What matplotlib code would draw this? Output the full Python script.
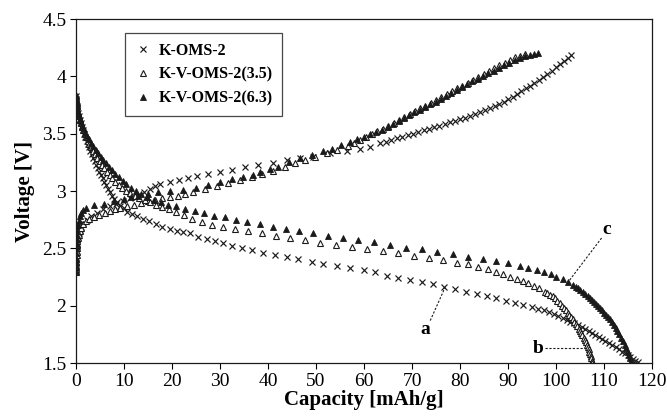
import numpy as np
import matplotlib
matplotlib.use("Agg")
import matplotlib.pyplot as plt

plt.rcParams['font.family'] = ['Liberation Serif', 'DejaVu Serif']

# (capacity mAh/g, voltage V)
kom_dis = [(0.0, 3.83), (0.05, 3.80), (0.1, 3.77), (0.2, 3.74), (0.3, 3.71), (0.45, 3.68), (0.6, 3.65),
           (0.8, 3.62), (1.0, 3.59), (1.2, 3.56), (1.45, 3.53), (1.7, 3.50), (1.95, 3.47), (2.2, 3.44),
           (2.45, 3.41), (2.7, 3.38), (3.0, 3.35), (3.3, 3.32), (3.6, 3.29), (3.9, 3.26), (4.2, 3.23),
           (4.5, 3.20), (4.85, 3.17), (5.2, 3.14), (5.55, 3.11), (5.9, 3.08), (6.3, 3.05), (6.7, 3.02),
           (7.1, 2.99), (7.5, 2.96), (8.0, 2.93), (8.5, 2.90), (9.1, 2.87), (9.9, 2.85), (10.7, 2.82),
           (11.6, 2.80), (12.7, 2.78), (14.0, 2.76), (15.3, 2.735), (16.6, 2.71), (18.0, 2.69), (19.5, 2.67),
           (21.0, 2.65), (22.3, 2.64), (23.75, 2.63), (25.5, 2.60), (27.2, 2.58), (29.0, 2.565), (30.7, 2.545),
           (32.6, 2.52), (34.5, 2.505), (36.6, 2.485), (39.0, 2.46), (41.5, 2.44), (43.9, 2.425), (46.3, 2.405),
           (49.1, 2.385), (51.5, 2.365), (54.3, 2.345), (57.1, 2.33), (59.9, 2.31), (62.3, 2.29), (64.7, 2.26),
           (67.1, 2.245), (69.6, 2.225), (72.0, 2.205), (74.4, 2.185), (76.7, 2.165), (79.0, 2.145),
           (81.25, 2.12), (83.5, 2.10), (85.6, 2.085), (87.6, 2.065), (89.6, 2.045), (91.5, 2.025),
           (93.2, 2.01), (95.0, 1.99), (96.3, 1.975), (97.5, 1.96), (98.6, 1.945), (99.6, 1.93), (100.5, 1.91),
           (101.4, 1.89), (102.2, 1.875), (103.0, 1.86), (103.8, 1.845), (104.6, 1.83), (105.4, 1.81),
           (106.1, 1.795), (106.8, 1.78), (107.5, 1.76), (108.2, 1.745), (108.9, 1.725), (109.6, 1.71),
           (110.3, 1.69), (111.0, 1.675), (111.7, 1.655), (112.4, 1.64), (113.1, 1.62), (113.7, 1.60),
           (114.3, 1.585), (114.9, 1.57), (115.5, 1.55), (116.0, 1.535), (116.5, 1.52), (117.0, 1.505)]

kom_chg = [(0.0, 2.30), (0.02, 2.33), (0.04, 2.36), (0.06, 2.39), (0.08, 2.42), (0.1, 2.45), (0.13, 2.48),
           (0.17, 2.51), (0.22, 2.54), (0.3, 2.57), (0.4, 2.60), (0.55, 2.63), (0.75, 2.66), (1.05, 2.69),
           (1.5, 2.72), (2.2, 2.75), (3.2, 2.78), (4.4, 2.81), (5.7, 2.84), (7.0, 2.87), (8.4, 2.89),
           (9.8, 2.91), (11.2, 2.94), (12.7, 2.96), (14.1, 2.99), (15.4, 3.02), (16.5, 3.04), (17.5, 3.06),
           (19.6, 3.08), (21.5, 3.10), (23.3, 3.115), (25.2, 3.13), (27.5, 3.15), (30.0, 3.17), (32.5, 3.18),
           (35.2, 3.205), (38.0, 3.225), (41.0, 3.245), (44.0, 3.27), (46.7, 3.29), (49.4, 3.30), (53.0, 3.33),
           (56.4, 3.345), (59.2, 3.365), (61.3, 3.385), (63.3, 3.42), (64.5, 3.43), (65.7, 3.445), (66.9, 3.46),
           (68.0, 3.475), (69.1, 3.49), (70.2, 3.50), (71.3, 3.515), (72.4, 3.53), (73.5, 3.54), (74.6, 3.555),
           (75.7, 3.57), (76.8, 3.585), (77.9, 3.60), (79.0, 3.61), (80.0, 3.625), (81.0, 3.64), (82.1, 3.655),
           (83.1, 3.67), (84.2, 3.69), (85.2, 3.705), (86.2, 3.72), (87.2, 3.74), (88.2, 3.76), (89.2, 3.78),
           (90.1, 3.80), (91.0, 3.82), (91.9, 3.845), (92.8, 3.87), (93.7, 3.895), (94.6, 3.92), (95.5, 3.945),
           (96.4, 3.97), (97.3, 3.995), (98.2, 4.02), (99.1, 4.05), (100.0, 4.08), (100.8, 4.105),
           (101.6, 4.13), (102.4, 4.16), (103.2, 4.19)]

v35_dis = [(0.0, 3.83), (0.05, 3.80), (0.12, 3.77), (0.2, 3.74), (0.3, 3.71), (0.45, 3.68), (0.6, 3.65),
           (0.8, 3.62), (1.0, 3.59), (1.25, 3.56), (1.5, 3.53), (1.8, 3.50), (2.1, 3.47), (2.45, 3.44),
           (2.8, 3.41), (3.2, 3.38), (3.6, 3.35), (4.0, 3.32), (4.45, 3.29), (4.9, 3.26), (5.4, 3.23),
           (5.9, 3.20), (6.4, 3.17), (7.0, 3.14), (7.6, 3.11), (8.2, 3.08), (8.9, 3.05), (9.6, 3.025),
           (10.4, 3.0), (11.3, 2.98), (12.2, 2.96), (13.2, 2.94), (14.3, 2.92), (15.5, 2.90), (16.7, 2.88),
           (18.0, 2.86), (19.4, 2.84), (20.8, 2.82), (22.4, 2.79), (24.1, 2.755), (26.2, 2.733), (28.3, 2.704),
           (30.6, 2.689), (33.1, 2.666), (35.9, 2.651), (38.7, 2.631), (41.7, 2.608), (44.6, 2.587),
           (47.7, 2.573), (50.8, 2.549), (54.2, 2.529), (57.4, 2.514), (60.6, 2.492), (63.9, 2.478),
           (67.1, 2.462), (70.5, 2.433), (73.6, 2.413), (76.5, 2.398), (79.3, 2.375), (81.7, 2.361),
           (83.8, 2.34), (85.8, 2.317), (87.5, 2.296), (89.0, 2.274), (90.4, 2.253), (91.8, 2.233),
           (93.1, 2.215), (94.2, 2.195), (95.4, 2.172), (96.5, 2.152), (97.7, 2.122), (98.2, 2.11),
           (98.75, 2.093), (99.3, 2.08), (99.8, 2.064), (100.3, 2.04), (100.8, 2.02), (101.2, 2.00),
           (101.6, 1.98), (102.0, 1.96), (102.4, 1.94), (102.75, 1.92), (103.1, 1.90), (103.45, 1.88),
           (103.8, 1.86), (104.1, 1.84), (104.4, 1.82), (104.7, 1.80), (105.0, 1.78), (105.25, 1.76),
           (105.5, 1.74), (105.75, 1.72), (106.0, 1.70), (106.2, 1.68), (106.4, 1.66), (106.6, 1.64),
           (106.8, 1.62), (106.95, 1.60), (107.1, 1.58), (107.2, 1.56), (107.3, 1.54), (107.4, 1.52),
           (107.45, 1.50)]

v35_chg = [(0.0, 2.29), (0.02, 2.32), (0.04, 2.35), (0.06, 2.38), (0.08, 2.41), (0.11, 2.44), (0.14, 2.47),
           (0.18, 2.50), (0.23, 2.53), (0.3, 2.56), (0.4, 2.59), (0.55, 2.62), (0.75, 2.65), (1.0, 2.68),
           (1.4, 2.71), (2.0, 2.735), (2.8, 2.755), (3.7, 2.775), (4.8, 2.795), (6.0, 2.81), (7.1, 2.825),
           (8.2, 2.84), (9.2, 2.85), (10.6, 2.865), (12.0, 2.88), (13.5, 2.895), (15.0, 2.91), (16.5, 2.92),
           (18.0, 2.935), (19.6, 2.95), (21.2, 2.96), (22.8, 2.975), (24.4, 2.994), (26.9, 3.015),
           (29.3, 3.044), (31.7, 3.067), (34.2, 3.096), (36.6, 3.12), (38.7, 3.148), (41.1, 3.177),
           (43.5, 3.207), (45.6, 3.241), (47.7, 3.27), (49.8, 3.299), (52.2, 3.33), (54.3, 3.36),
           (56.7, 3.395), (58.0, 3.42), (59.2, 3.445), (60.4, 3.47), (61.6, 3.495), (62.8, 3.52),
           (64.0, 3.545), (65.1, 3.57), (66.2, 3.595), (67.3, 3.62), (68.4, 3.645), (69.5, 3.67),
           (70.6, 3.695), (71.7, 3.72), (72.8, 3.745), (73.9, 3.77), (75.0, 3.795), (76.1, 3.82),
           (77.2, 3.845), (78.3, 3.87), (79.4, 3.895), (80.5, 3.92), (81.6, 3.945), (82.7, 3.97),
           (83.8, 3.995), (84.9, 4.02), (86.0, 4.045), (87.1, 4.07), (88.2, 4.095), (89.3, 4.12),
           (90.4, 4.145), (91.5, 4.165), (92.5, 4.18), (93.5, 4.195)]

v63_dis = [(0.0, 3.84), (0.05, 3.81), (0.12, 3.78), (0.2, 3.75), (0.3, 3.72), (0.45, 3.69), (0.6, 3.66),
           (0.8, 3.63), (1.05, 3.60), (1.3, 3.57), (1.6, 3.54), (1.95, 3.51), (2.3, 3.48), (2.7, 3.45),
           (3.15, 3.42), (3.6, 3.39), (4.1, 3.36), (4.6, 3.33), (5.15, 3.30), (5.7, 3.27), (6.3, 3.24),
           (6.9, 3.21), (7.5, 3.18), (8.2, 3.15), (8.9, 3.12), (9.7, 3.09), (10.5, 3.06), (11.4, 3.03),
           (12.4, 3.00), (13.5, 2.97), (14.8, 2.945), (16.2, 2.92), (17.7, 2.90), (19.2, 2.88),
           (20.8, 2.865), (22.8, 2.845), (24.8, 2.829), (26.7, 2.806), (28.75, 2.785), (31.0, 2.771),
           (33.3, 2.747), (35.7, 2.727), (38.3, 2.71), (41.0, 2.689), (43.75, 2.669), (46.5, 2.651),
           (49.4, 2.631), (52.4, 2.611), (55.7, 2.587), (58.8, 2.573), (62.1, 2.555), (65.4, 2.532),
           (68.75, 2.506), (72.0, 2.492), (75.3, 2.471), (78.6, 2.451), (81.7, 2.427), (84.7, 2.407),
           (87.5, 2.39), (90.1, 2.37), (92.4, 2.349), (94.2, 2.331), (96.0, 2.311), (97.5, 2.291),
           (98.9, 2.274), (100.1, 2.253), (101.4, 2.23), (102.6, 2.21), (103.6, 2.18), (104.1, 2.165),
           (104.6, 2.15), (105.1, 2.135), (105.6, 2.12), (106.1, 2.10), (106.6, 2.085), (107.1, 2.07),
           (107.6, 2.05), (108.0, 2.035), (108.4, 2.015), (108.8, 2.0), (109.2, 1.98), (109.6, 1.96),
           (110.0, 1.94), (110.4, 1.92), (110.8, 1.90), (111.2, 1.88), (111.6, 1.855), (112.0, 1.83),
           (112.4, 1.805), (112.8, 1.78), (113.2, 1.75), (113.6, 1.72), (113.95, 1.69), (114.3, 1.66),
           (114.6, 1.63), (114.9, 1.60), (115.15, 1.57), (115.4, 1.54), (115.6, 1.515), (115.8, 1.50)]

v63_chg = [(0.0, 2.30), (0.02, 2.34), (0.04, 2.38), (0.06, 2.42), (0.08, 2.46), (0.1, 2.50), (0.13, 2.54),
           (0.17, 2.58), (0.22, 2.62), (0.3, 2.66), (0.4, 2.70), (0.55, 2.74), (0.75, 2.78), (1.0, 2.81),
           (1.5, 2.835), (2.1, 2.855), (3.75, 2.875), (5.8, 2.89), (8.0, 2.91), (9.9, 2.93), (11.5, 2.945),
           (13.0, 2.96), (15.0, 2.975), (17.0, 2.99), (19.5, 3.0), (22.3, 3.01), (25.1, 3.023), (27.6, 3.05),
           (30.0, 3.08), (32.4, 3.105), (34.7, 3.12), (36.9, 3.14), (38.3, 3.165), (40.4, 3.19), (42.1, 3.21),
           (44.4, 3.25), (46.7, 3.285), (49.1, 3.315), (51.5, 3.345), (53.4, 3.37), (55.2, 3.40),
           (57.1, 3.43), (58.5, 3.45), (59.9, 3.47), (61.2, 3.495), (62.6, 3.515), (63.8, 3.535),
           (65.0, 3.56), (66.1, 3.585), (67.2, 3.61), (68.3, 3.635), (69.4, 3.66), (70.5, 3.685),
           (71.6, 3.71), (72.7, 3.735), (73.8, 3.76), (74.9, 3.78), (76.0, 3.805), (77.1, 3.83),
           (78.2, 3.855), (79.3, 3.88), (80.4, 3.905), (81.5, 3.93), (82.6, 3.955), (83.7, 3.98),
           (84.8, 4.005), (85.9, 4.03), (87.0, 4.05), (88.1, 4.075), (89.2, 4.10), (90.3, 4.12),
           (91.4, 4.14), (92.5, 4.16), (93.6, 4.175), (94.6, 4.19), (95.5, 4.195), (96.3, 4.20)]

fig = plt.figure(figsize=(6.67, 4.18), dpi=100)
ax = fig.add_axes([76 / 667, 1 - 363 / 418, 576 / 667, 344 / 418])

ink = '#1a1a1a'
styles = {
    'K-OMS-2': dict(marker='x', mfc='none', mec=ink, ms=4.5, mew=0.85),
    'K-V-OMS-2(3.5)': dict(marker='^', mfc='white', mec=ink, ms=4.3, mew=0.8),
    'K-V-OMS-2(6.3)': dict(marker='^', mfc=ink, mec=ink, ms=4.3, mew=0.6),
}
series = [('K-OMS-2', kom_chg, kom_dis), ('K-V-OMS-2(3.5)', v35_chg, v35_dis),
          ('K-V-OMS-2(6.3)', v63_chg, v63_dis)]

for name, chg, dis in series:
    c = np.array(chg).T
    d = np.array(dis).T
    ax.plot(c[0], c[1], ls='none', label=name, **styles[name])
    ax.plot(d[0], d[1], ls='none', **styles[name])

ax.set_xlim(0, 120)
ax.set_ylim(1.5, 4.5)
ax.set_xticks(np.arange(0, 121, 10))
ax.set_yticks([1.5, 2, 2.5, 3, 3.5, 4, 4.5])
ax.set_yticklabels(['1.5', '2', '2.5', '3', '3.5', '4', '4.5'])
ax.tick_params(direction='out', length=4, width=0.8, labelsize=14, pad=3,
               top=False, right=False)
for s in ax.spines.values():
    s.set_linewidth(0.9)
    s.set_color(ink)

ax.set_xlabel('Capacity [mAh/g]', fontsize=15, fontweight='bold', labelpad=0)
ax.set_ylabel('Voltage [V]', fontsize=15, fontweight='bold', labelpad=5)

leg = ax.legend(loc='upper left', bbox_to_anchor=(49 / 576, 1 - 14 / 344), frameon=True,
                fancybox=False, edgecolor=ink, prop={'weight': 'bold', 'size': 11.5},
                handletextpad=0.5, handlelength=1.0, labelspacing=0.5, borderpad=0.6,
                borderaxespad=0)
leg.get_frame().set_linewidth(0.9)

# curve labels with dotted leaders
lead = dict(color=ink, lw=0.8, ls=(0, (2, 1.5)))
ax.plot([73.8, 76.9], [1.87, 2.16], **lead)
ax.text(72.8, 1.79, 'a', fontsize=14, fontweight='bold', ha='center', va='center')
ax.plot([97.8, 105.7], [1.628, 1.628], **lead)
ax.text(96.3, 1.63, 'b', fontsize=14, fontweight='bold', ha='center', va='center')
ax.plot([109.5, 102.6], [2.59, 2.21], **lead)
ax.text(110.6, 2.66, 'c', fontsize=14, fontweight='bold', ha='center', va='center')

fig.savefig('out.png', dpi=100)
